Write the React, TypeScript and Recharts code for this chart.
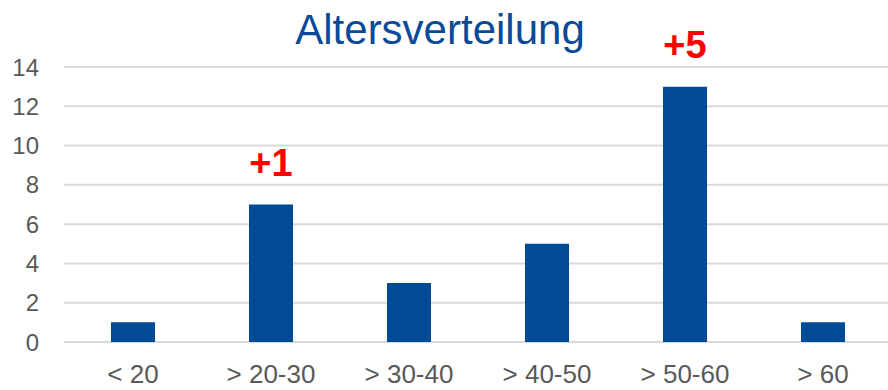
import React from "react";
import { BarChart, Bar, XAxis, YAxis, CartesianGrid, LabelList } from "recharts";

const categories = ["< 20", "> 20-30", "> 30-40", "> 40-50", "> 50-60", "> 60"];
const counts = [1, 7, 3, 5, 13, 1];
const changes = ["", "+1", "", "", "+5", ""];
const yTicks = [0, 2, 4, 6, 8, 10, 12, 14];

const data = categories.map((name, i) => ({ name, count: counts[i], change: changes[i] }));

const axisFont = "'Liberation Sans', Arial, sans-serif";

const ChangeLabel = (props: any) => {
  const { x, y, width, index } = props;
  const txt = changes[index];
  if (!txt) return null;
  return (
    <text
      x={x + width / 2}
      y={y - 29}
      textAnchor="middle"
      fill="#ff0000"
      fontSize={38}
      fontWeight="bold"
      fontFamily="'Liberation Sans', Arial, sans-serif"
    >
      {txt}
    </text>
  );
};

export default function App() {
  return (
    <div
      style={{
        position: "fixed",
        left: 0,
        top: 0,
        width: 888,
        height: 390,
        overflow: "hidden",
        background: "#fff",
      }}
    >
      <div
        style={{
          position: "absolute",
          left: 0,
          right: 0,
          top: 7,
          textAlign: "center",
          paddingRight: 8,
          fontFamily: "'Liberation Sans', Arial, sans-serif",
          fontSize: 42,
          lineHeight: "46px",
          color: "#0b4a98",
        }}
      >
        Altersverteilung
      </div>
      <BarChart
        width={900}
        height={390}
        data={data}
        margin={{ top: 67, right: 8, left: 0, bottom: 0 }}
        barSize={44}
      >
        <CartesianGrid vertical={false} stroke="#d9d9d9" strokeWidth={2} />
        <XAxis
          dataKey="name"
          axisLine={false}
          tickLine={false}
          height={48}
          tickMargin={17}
          interval={0}
          tick={{ fontSize: 26, fill: "#595959", fontFamily: axisFont }}
        />
        <YAxis
          domain={[0, 14]}
          ticks={yTicks}
          width={64}
          axisLine={false}
          tickLine={false}
          tickMargin={19}
          tick={{ fontSize: 24, fill: "#595959", fontFamily: axisFont }}
        />
        <Bar dataKey="count" fill="#004a96" isAnimationActive={false}>
          <LabelList dataKey="change" content={<ChangeLabel />} />
        </Bar>
      </BarChart>
    </div>
  );
}
